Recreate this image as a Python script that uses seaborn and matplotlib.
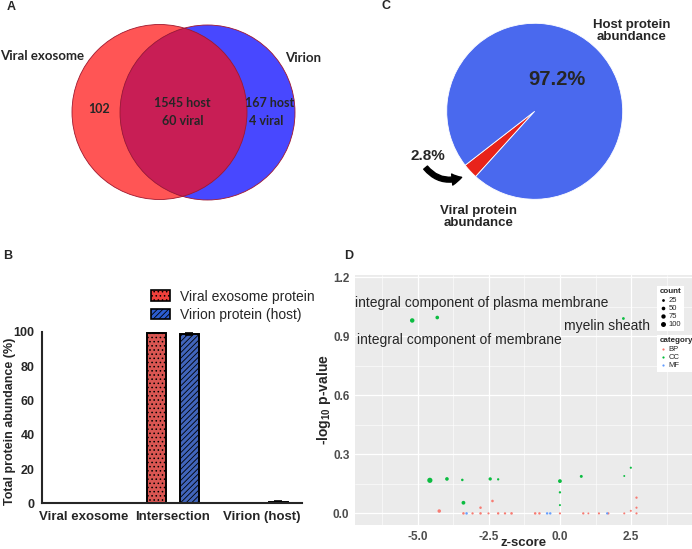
import numpy as np
import pandas as pd
import matplotlib
matplotlib.use("Agg")
import matplotlib.pyplot as plt
import seaborn as sns
from matplotlib.patches import Circle, Patch

sns.set_style("white")
plt.rcParams['font.family'] = ['Liberation Sans', 'DejaVu Sans']
plt.rcParams['hatch.linewidth'] = 0.6

# -----------------------------
# Data
# -----------------------------
# A: Venn counts
venn_set_names = ['Viral exosome', 'Virion']
exo_only = [102]
shared_host, shared_viral = [1545], [60]
virion_host, virion_viral = [167], [4]

# B: protein abundance per region (%)
b_groups = ['Viral exosome', 'Intersection', 'Virion (host)']
b_sources = ['Viral exosome protein', 'Virion protein (host)']
exo_abund = [0.3, 99.7, 0.0]
virion_abund = [0.0, 99.0, 1.0]
exo_err = [0.0, 0.4, 0.0]
virion_err = [0.0, 0.6, 0.3]

# C: pie
pie_labels = ['Viral protein\nabundance', 'Host protein\nabundance']
pie_values = [2.8, 97.2]

# D: GO bubble plot
cc_z = [-5.19, -4.31, 2.23, -4.57, -3.97, -3.43, -2.45, -2.17, 0.0, 0.75, 2.26, 2.49, -3.39, 0.0, 0.0]
cc_p = [0.98, 0.995, 0.99, 0.168, 0.175, 0.170, 0.175, 0.173, 0.164, 0.188, 0.19, 0.232, 0.054, 0.107, 0.042]
cc_n = [80, 50, 25, 110, 50, 20, 40, 15, 55, 30, 8, 12, 55, 15, 10]
bp_z = [-4.24, -2.79, -2.37, 2.69, 2.69, 2.49, -3.39, -3.07, -2.79, -2.51, -2.17, -1.93, -1.70,
        -0.87, -0.72, 0.0, 0.82, 1.0, 1.37, 1.70, 2.26, 2.69]
bp_p = [0.012, 0.029, 0.063, 0.080, 0.029, 0.013, 0, 0, 0, 0, 0, 0, 0, 0, 0, 0, 0, 0, 0, 0, 0, 0]
bp_n = [45, 20, 22, 15, 12, 10, 20, 15, 20, 12, 18, 15, 22, 20, 18, 12, 15, 8, 12, 15, 10, 12]
mf_z = [-3.28, -0.45, -0.34, 1.66]
mf_p = [0.0, 0.0, 0.0, 0.0]
mf_n = [20, 18, 18, 15]
go_labels = ['integral component of plasma membrane', 'integral component of membrane', 'myelin sheath']
go_label_z = [-2.74, -3.55, 1.65]
go_label_p = [1.07, 0.881, 0.952]

W, H = 692, 549
fig = plt.figure(figsize=(W / 100, H / 100), dpi=100)


def px_box(l, t, r, b):
    return [l / W, 1 - b / H, (r - l) / W, (b - t) / H]


# -----------------------------
# A: Venn diagram
# -----------------------------
ax_a = fig.add_axes(px_box(0, 0, 346, 274.5))
ax_a.set_xlim(0, 346)
ax_a.set_ylim(274.5, 0)
ax_a.axis('off')
red_c = Circle((159.5, 112), 87.5, facecolor='#FF5555', edgecolor='none')
blue_c = Circle((207.5, 112.5), 87.5, facecolor='#4848FF', edgecolor='none')
ax_a.add_patch(red_c)
ax_a.add_patch(blue_c)
mid_c = Circle((207.5, 112.5), 87.5, facecolor='#C81E55', edgecolor='none')
ax_a.add_patch(mid_c)
mid_c.set_clip_path(red_c)
for c in [(159.5, 112), (207.5, 112.5)]:
    ax_a.add_patch(Circle(c, 87.5, fill=False, edgecolor='#A0182E', lw=0.6))
vfont = dict(family=['Lato', 'DejaVu Sans'], weight='bold', ha='center', va='center')
ax_a.text(42, 56, venn_set_names[0], fontsize=9.5, **vfont)
ax_a.text(303, 58, venn_set_names[1], fontsize=9.5, **vfont)
ax_a.text(99, 109, f"{exo_only[0]}", fontsize=9, **vfont)
ax_a.text(182, 103, f"{shared_host[0]} host", fontsize=9, **vfont)
ax_a.text(183, 121, f"{shared_viral[0]} viral", fontsize=9, **vfont)
ax_a.text(270, 103, f"{virion_host[0]} host", fontsize=9, **vfont)
ax_a.text(266, 121, f"{virion_viral[0]} viral", fontsize=9, **vfont)

# -----------------------------
# C: Pie chart
# -----------------------------
ax_c = fig.add_axes(px_box(346, 0, 692, 274.5))
ax_c.pie(pie_values, colors=['#E8231B', '#4A69EE'], startangle=217.8,
         wedgeprops=dict(edgecolor='white', linewidth=0.6))
cx, cy, r = 534.7, 111.3, 88
ax_c.set_xlim((346 - cx) / r, (692 - cx) / r)
ax_c.set_ylim((cy - 274.5) / r, cy / r)
ax_c.set_aspect('equal')
ax_c.text(0.253, 0.367, f"{pie_values[1]}%", fontsize=14.5, weight='bold', ha='center', va='center')
ax_c.text(1.10, 0.91, pie_labels[1], fontsize=9.5, weight='bold', ha='center', va='center', linespacing=0.95)
ax_c.text(-0.636, -1.20, pie_labels[0], fontsize=9.5, weight='bold', ha='center', va='center', linespacing=0.95)
ax_c.text(-1.216, -0.505, f"{pie_values[0]}%", fontsize=11, weight='bold', ha='center', va='center')
ax_c.annotate('', xy=(-0.83, -0.75), xytext=(-1.24, -0.64),
              arrowprops=dict(arrowstyle='simple,head_length=0.7,head_width=0.8,tail_width=0.35',
                              connectionstyle='arc3,rad=0.35', color='black', shrinkA=0, shrinkB=0),
              annotation_clip=False)

# -----------------------------
# B: Bar chart
# -----------------------------
ax_b = fig.add_axes(px_box(42.3, 332, 301.7, 503.3))
bdf = pd.DataFrame({
    'group': b_groups * 2,
    'source': [b_sources[0]] * 3 + [b_sources[1]] * 3,
    'value': exo_abund + virion_abund,
})
bar_colors = ['#F0413C', '#2C5DD0']
sns.barplot(data=bdf, x='group', y='value', hue='source', palette=bar_colors,
            width=0.74, gap=0.43, errorbar=None, edgecolor='black', linewidth=1.4,
            legend=False, ax=ax_b)
for cont, hatch, err in zip(ax_b.containers, ['....', '//////'], [exo_err, virion_err]):
    xs, ys = [], []
    for bar in cont:
        bar.set_hatch(hatch)
        xs.append(bar.get_x() + bar.get_width() / 2)
        ys.append(bar.get_height())
    ax_b.errorbar(xs, ys, yerr=err, fmt='none', ecolor='black', elinewidth=1.2, capsize=3, capthick=1.2)
ax_b.set_xlim(-0.47, 2.45)
ax_b.set_ylim(0, 100)
ax_b.set_yticks([0, 20, 40, 60, 80, 100])
ax_b.set_xlabel('')
ax_b.set_ylabel('Total protein abundance (%)', fontsize=9, weight='bold', va='center')
ax_b.yaxis.set_label_coords((10 - 42.3) / 259.4, 0.48)
sns.despine(ax=ax_b)
for s in ['left', 'bottom']:
    ax_b.spines[s].set_linewidth(1.5)
ax_b.tick_params(width=1.5, length=4, pad=1.5)
ax_b.tick_params(axis='x', labelsize=9.5)
ax_b.tick_params(axis='y', labelsize=9)
for lab in ax_b.get_xticklabels() + ax_b.get_yticklabels():
    lab.set_fontweight('bold')
handles = [Patch(facecolor=c, edgecolor='black', hatch=h, linewidth=1.2)
           for c, h in zip(bar_colors, ['....', '//////'])]
ax_b.legend(handles, b_sources, loc='upper left', bbox_to_anchor=(138 / W, 1 - 277 / H),
            bbox_transform=fig.transFigure, frameon=False, fontsize=10,
            handlelength=1.4, handleheight=0.8, labelspacing=0.3, handletextpad=0.7)

# -----------------------------
# D: GO bubble plot
# -----------------------------
ax_d = fig.add_axes(px_box(355, 275, 692, 525))
ddf = pd.DataFrame({
    'z': cc_z + bp_z + mf_z,
    'logp': cc_p + bp_p + mf_p,
    'count': cc_n + bp_n + mf_n,
    'category': ['CC'] * len(cc_z) + ['BP'] * len(bp_z) + ['MF'] * len(mf_z),
})
pal = {'BP': '#F8766D', 'CC': '#00BA38', 'MF': '#619CFF'}
size_rng, size_norm = (1, 14), (0, 110)
sns.scatterplot(data=ddf, x='z', y='logp', hue='category', palette=pal, size='count',
                sizes=size_rng, size_norm=size_norm, linewidth=0, alpha=0.95,
                legend=False, ax=ax_d, zorder=3)
for t, zx, py in zip(go_labels, go_label_z, go_label_p):
    ax_d.text(zx, py, t, fontsize=10, ha='center', va='center', zorder=4)
ax_d.set_facecolor('#EBEBEB')
for s in ax_d.spines.values():
    s.set_visible(False)
ax_d.set_xlim(-7.2, 4.64)
ax_d.set_ylim(-0.059, 1.211)
ax_d.set_xticks([-5, -2.5, 0, 2.5])
ax_d.set_xticklabels(['-5.0', '-2.5', '0.0', '2.5'])
ax_d.set_yticks([0, 0.3, 0.6, 0.9, 1.2])
ax_d.set_yticklabels(['0.0', '0.3', '0.6', '0.9', '1.2'])
ax_d.set_xticks([-6.25, -3.75, -1.25, 1.25, 3.75], minor=True)
ax_d.set_yticks([0.15, 0.45, 0.75, 1.05], minor=True)
ax_d.set_axisbelow(True)
ax_d.grid(which='major', color='white', lw=0.9)
ax_d.grid(which='minor', color='white', lw=0.4)
ax_d.tick_params(which='major', length=2.5, color='#333333', labelsize=8.5, labelcolor='#4D4D4D', pad=1.5)
ax_d.tick_params(which='minor', length=0)
for lab in ax_d.get_xticklabels() + ax_d.get_yticklabels():
    lab.set_fontweight('bold')
ax_d.set_xlabel('z-score', fontsize=9.5, weight='bold', va='top')
ax_d.xaxis.set_label_coords(0.5, (525 - 536.5) / 250)
ax_d.set_ylabel(r'-log$_{\mathregular{10}}$ p-value', fontsize=10, weight='bold', labelpad=0)

leg_counts = [25, 50, 75, 100]
cnt_handles = [ax_d.scatter([], [], s=size_rng[0] + (size_rng[1] - size_rng[0]) * c / size_norm[1],
                            color='black', linewidth=0) for c in leg_counts]
leg1 = ax_d.legend(cnt_handles, [str(c) for c in leg_counts], title='count', loc='upper left',
                   bbox_to_anchor=(653 / W, 1 - 282 / H), bbox_transform=fig.transFigure,
                   fontsize=5.5, title_fontproperties={'weight': 'bold', 'size': 5.8},
                   frameon=True, fancybox=False, edgecolor='none', framealpha=1,
                   handlelength=0.8, handletextpad=0.4, labelspacing=0.1, borderpad=0.35)
leg1._legend_box.align = 'left'
ax_d.add_artist(leg1)
cat_handles = [ax_d.scatter([], [], s=2.5, color=pal[k], linewidth=0) for k in pal]
leg2 = ax_d.legend(cat_handles, list(pal), title='category', loc='upper left',
                   bbox_to_anchor=(653 / W, 1 - 331 / H), bbox_transform=fig.transFigure,
                   fontsize=5.5, title_fontproperties={'weight': 'bold', 'size': 5.8},
                   frameon=True, fancybox=False, edgecolor='none', framealpha=1,
                   handlelength=0.8, handletextpad=0.4, labelspacing=0.1, borderpad=0.35)
leg2._legend_box.align = 'left'

# panel letters
for letter, x, y in [('A', 11, 7), ('C', 386, 6), ('B', 8, 256), ('D', 349, 256)]:
    fig.text(x / W, 1 - y / H, letter, fontsize=9, weight='bold', ha='center', va='center')

fig.savefig('out.png', dpi=100)
